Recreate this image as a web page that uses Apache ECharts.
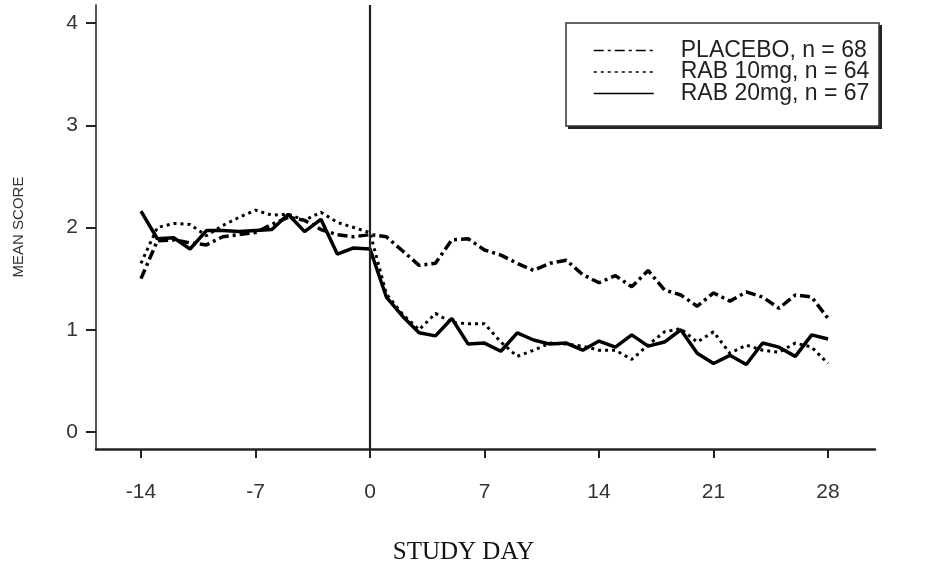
<!DOCTYPE html>
<html>
<head>
<meta charset="utf-8">
<script src="https://cdn.jsdelivr.net/npm/echarts@6/dist/echarts.min.js"></script>
<style>html,body{margin:0;padding:0;background:#fff;}#main{width:927px;height:571px;}</style>
</head>
<body>
<div id="main"></div>
<script>
var days = [-14,-13,-12,-11,-10,-9,-8,-7,-6,-5,-4,-3,-2,-1,0,1,2,3,4,5,6,7,8,9,10,11,12,13,14,15,16,17,18,19,20,21,22,23,24,25,26,27,28];
var placebo = [1.50,1.87,1.88,1.85,1.83,1.91,1.93,1.95,2.03,2.10,2.07,1.98,1.93,1.91,1.93,
  1.91,1.77,1.63,1.65,1.88,1.89,1.78,1.73,1.65,1.58,1.65,1.68,1.54,1.46,1.53,1.42,1.58,1.39,1.34,1.23,1.36,1.28,1.37,1.32,1.21,1.34,1.32,1.11];
var rab10 = [1.65,2.00,2.04,2.03,1.92,2.02,2.10,2.17,2.12,2.13,2.07,2.15,2.05,2.00,1.95,
  1.35,1.15,1.00,1.16,1.07,1.06,1.06,0.88,0.74,0.80,0.87,0.86,0.84,0.80,0.80,0.71,0.85,0.98,1.01,0.88,0.98,0.77,0.85,0.80,0.78,0.87,0.83,0.67];
var rab20 = [2.16,1.89,1.90,1.79,1.97,1.97,1.96,1.97,1.98,2.13,1.96,2.08,1.74,1.80,1.79,
  1.32,1.13,0.97,0.94,1.11,0.86,0.87,0.79,0.97,0.90,0.86,0.87,0.80,0.89,0.83,0.95,0.84,0.88,1.00,0.77,0.67,0.75,0.66,0.87,0.83,0.74,0.95,0.91];
var seriesNames = ['PLACEBO, n = 68','RAB 10mg, n = 64','RAB 20mg, n = 67'];
var xTicks = [-14,-7,0,7,14,21,28];
var yTicks = [0,1,2,3,4];
var refDay = 0;

function pairs(vals){ return days.map(function(d,i){ return [d, vals[i]]; }); }

var chart = echarts.init(document.getElementById('main'));
chart.setOption({
  animation: false,
  backgroundColor: '#fff',
  title: {
    text: 'STUDY DAY', left: 'center', top: 535,
    textStyle: {fontFamily: 'Liberation Serif', fontWeight: 'normal', fontSize: 25, color: '#111'}
  },
  graphic: {
    elements: [
      {type: 'rect', z: 1, shape: {x: 568, y: 25, width: 314, height: 104}, style: {fill: '#222'}},
      {type: 'rect', z: 2, shape: {x: 566, y: 23, width: 313, height: 103}, style: {fill: '#fff', stroke: '#333', lineWidth: 1.5}}
    ]
  },
  grid: {left: 96, right: 52, top: 5, bottom: 122},
  legend: {
    z: 10,
    orient: 'vertical', left: 566, top: 23,
    padding: [16, 6, 20, 27],
    itemGap: -1.5, itemWidth: 60, itemHeight: 14,
    lineStyle: {width: 1.5},
    itemStyle: {opacity: 0},
    textStyle: {fontFamily: 'Liberation Sans', fontSize: 23, color: '#222', lineHeight: 20, padding: [0,0,0,22]},
    data: seriesNames
  },
  xAxis: {
    type: 'value', min: -16.75, max: 30.87,
    axisLine: {show: true, onZero: false, lineStyle: {color: '#222', width: 2.5}},
    axisTick: {show: true, customValues: xTicks, length: 9, lineStyle: {color: '#222', width: 2}},
    axisLabel: {customValues: xTicks, margin: 33, fontFamily: 'Liberation Sans', fontSize: 21, color: '#333'},
    splitLine: {show: false}
  },
  yAxis: {
    type: 'value', min: -0.166, max: 4.176,
    name: 'MEAN SCORE', nameLocation: 'middle', nameGap: 70, nameRotate: 90,
    nameTextStyle: {fontFamily: 'Liberation Sans', fontSize: 15, color: '#333'},
    axisLine: {show: true, onZero: false, lineStyle: {color: '#555', width: 2}},
    axisTick: {show: true, customValues: yTicks, length: 10, lineStyle: {color: '#222', width: 2}},
    axisLabel: {customValues: yTicks, margin: 18, fontFamily: 'Liberation Sans', fontSize: 21, color: '#333'},
    splitLine: {show: false}
  },
  series: [
    {name: seriesNames[0], type: 'line', data: pairs(placebo), symbol: 'none',
     lineStyle: {color: '#000', width: 3.5, type: [10, 4, 3, 4]}, itemStyle: {color: '#000'}},
    {name: seriesNames[1], type: 'line', data: pairs(rab10), symbol: 'none',
     lineStyle: {color: '#000', width: 3, type: [3, 4]}, itemStyle: {color: '#000'}},
    {name: seriesNames[2], type: 'line', data: pairs(rab20), symbol: 'none',
     lineStyle: {color: '#000', width: 3.5}, itemStyle: {color: '#000'},
     markLine: {silent: true, symbol: 'none', label: {show: false},
       lineStyle: {color: '#222', width: 2.2, type: 'solid'},
       data: [{xAxis: refDay}]}}
  ]
});
</script>
</body>
</html>
